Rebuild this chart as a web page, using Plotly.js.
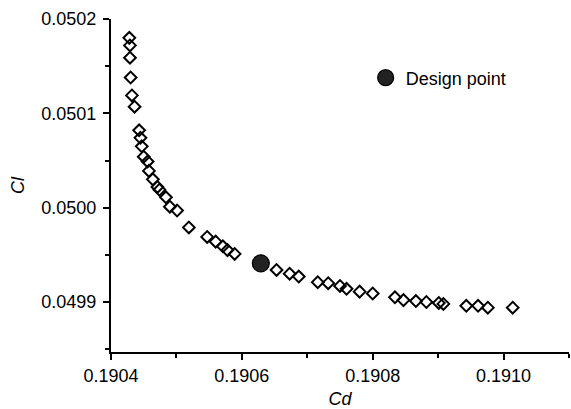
<!DOCTYPE html>
<html>
<head>
<meta charset="utf-8">
<script src="https://cdn.plot.ly/plotly-3.0.1.min.js"></script>
<style>html,body{margin:0;padding:0;background:#fff;}#chart{width:571px;height:409px;}</style>
</head>
<body>
<div id="chart"></div>
<script>
const paretoCd = [0.190428,0.190429,0.190429,0.190430,0.190432,0.190436,0.190443,0.190445,0.190447,0.190450,
  0.190456,0.190458,0.190464,0.190471,0.190474,0.190484,0.190490,0.190501,0.190519,0.190547,
  0.190560,0.190571,0.190578,0.190589,0.190653,0.190673,0.190687,0.190716,0.190732,0.190750,
  0.190760,0.190780,0.190800,0.190834,0.190847,0.190866,0.190882,0.190901,0.190908,0.190943,
  0.190961,0.190976,0.191014];
const paretoCl = [0.050180,0.050172,0.050159,0.050138,0.050119,0.050107,0.050082,0.050074,0.050065,0.050054,
  0.050049,0.050039,0.050030,0.050022,0.050019,0.050011,0.050001,0.049997,0.049979,0.049969,
  0.049964,0.049959,0.049955,0.049951,0.049934,0.049930,0.049927,0.049921,0.049920,0.049917,
  0.049914,0.049911,0.049909,0.049905,0.049902,0.049901,0.049900,0.049899,0.049898,0.049896,
  0.049896,0.049894,0.049894];
const designCd = [0.190629];
const designCl = [0.049941];
const designLabel = "Design point";
const xTicks = [0.1904, 0.1906, 0.1908, 0.1910];
const xTickText = ["0.1904", "0.1906", "0.1908", "0.1910"];
const yTicks = [0.0499, 0.0500, 0.0501, 0.0502];
const yTickText = ["0.0499", "0.0500", "0.0501", "0.0502"];

const traces = [
  {x: paretoCd, y: paretoCl, type: 'scatter', mode: 'markers', showlegend: false,
   marker: {symbol: 'diamond-open', size: 9, color: '#000', line: {width: 2, color: '#000'}}},
  {x: designCd, y: designCl, type: 'scatter', mode: 'markers', name: designLabel,
   marker: {symbol: 'circle', size: 17, color: '#222', line: {width: 1.2, color: '#000'}}}
];

const axisCommon = {
  showgrid: false, zeroline: false, showline: true, linecolor: '#000', linewidth: 2,
  ticks: 'outside', ticklen: 6, tickwidth: 2, tickcolor: '#000',
  tickfont: {family: 'Liberation Sans, Arial, sans-serif', size: 18, color: '#000'},
  tickmode: 'array'
};

const layout = {
  width: 571, height: 409,
  margin: {l: 111, r: 2, t: 19, b: 57},
  paper_bgcolor: '#fff', plot_bgcolor: '#fff',
  font: {family: 'Liberation Sans, Arial, sans-serif', color: '#000'},
  xaxis: Object.assign({}, axisCommon, {
    range: [0.1904, 0.1911], tickvals: xTicks, ticktext: xTickText,
    minor: {dtick: 0.0001, tick0: 0.1904, ticks: 'outside', ticklen: 4, tickwidth: 2, tickcolor: '#000'},
    title: {text: '<i>Cd</i>', font: {size: 18, family: 'Liberation Sans, Arial, sans-serif'}, standoff: 8}
  }),
  yaxis: Object.assign({}, axisCommon, {
    range: [0.049847, 0.0502], tickvals: yTicks, ticktext: yTickText, ticklabelstandoff: 3,
    minor: {dtick: 0.00005, tick0: 0.0499, ticks: 'outside', ticklen: 4, tickwidth: 2, tickcolor: '#000'},
    title: {text: '<i>Cl</i>', font: {size: 18, family: 'Liberation Sans, Arial, sans-serif'}, standoff: 12}
  }),
  showlegend: true,
  legend: {x: 0.556, xanchor: 'left', y: 0.823, yanchor: 'middle', bgcolor: 'rgba(0,0,0,0)',
           font: {size: 18, family: 'Liberation Sans, Arial, sans-serif'}}
};

Plotly.newPlot('chart', traces, layout, {displayModeBar: false, staticPlot: true});
</script>
</body>
</html>
